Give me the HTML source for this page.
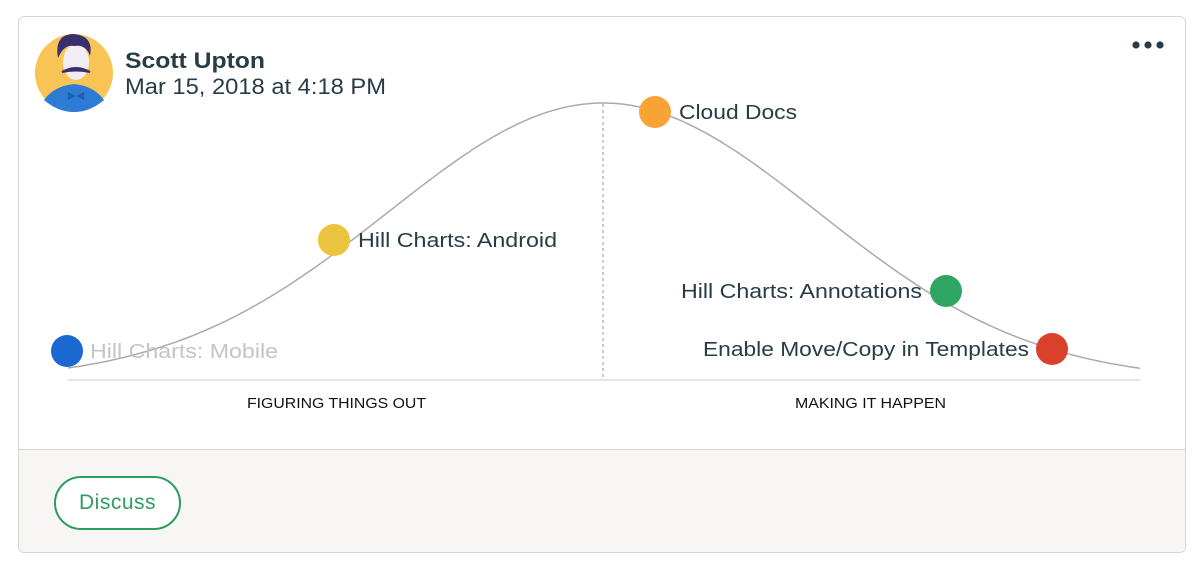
<!DOCTYPE html>
<html><head><meta charset="utf-8">
<style>
html,body{margin:0;padding:0;background:#fff;width:1200px;height:570px;overflow:hidden;font-family:"Liberation Sans",sans-serif;}
.card{position:absolute;left:18px;top:16px;width:1166px;height:535px;border:1px solid #d6d6d6;border-radius:6px;background:#fff;overflow:hidden;}
.foot{position:absolute;left:0;top:432px;width:100%;height:103px;background:#f7f6f5;border-top:1px solid #d6d6d6;}
.btn{position:absolute;left:35px;top:26px;width:127px;height:54px;border:2px solid #2f9c5f;border-radius:27px;background:#fff;color:#2f9c5f;font-size:21px;text-align:center;box-sizing:border-box;line-height:50px;letter-spacing:0.5px;}
svg{position:absolute;left:0;top:0;}
</style></head><body>
<div class="card"><div class="foot"><div class="btn">Discuss</div></div></div>
<svg width="1200" height="570" xmlns="http://www.w3.org/2000/svg">
  <circle cx="74" cy="73" r="39" fill="#f8c455"/>
  <path d="M44 100 Q54 86 74 84 Q94 86 104 100 Q90 112 74 112 Q58 112 44 100Z" fill="#2e7bd6"/>
  <ellipse cx="76" cy="62" rx="13" ry="18" fill="#f1eef3"/>
  <path d="M58 58 Q54 34 74 34 Q94 36 90 56 Q86 44 74 46 Q64 44 58 58Z" fill="#3a2f6e"/>
  <path d="M62 72 Q76 64 90 72 Q76 69 62 72Z" fill="#3a2f6e" stroke="#3a2f6e" stroke-width="2"/>
  <path d="M68 92 L76 96 L84 92 L84 100 L76 96 L68 100Z" fill="#1d5fb0"/>
  <text x="125" y="68" font-size="22" font-weight="bold" fill="#283c46" textLength="140" lengthAdjust="spacingAndGlyphs">Scott Upton</text>
  <text x="125" y="94" font-size="22" fill="#283c46" textLength="261" lengthAdjust="spacingAndGlyphs">Mar 15, 2018 at 4:18 PM</text>
  <circle cx="1136" cy="45" r="3.6" fill="#283c46"/><circle cx="1148" cy="45" r="3.6" fill="#283c46"/><circle cx="1160" cy="45" r="3.6" fill="#283c46"/>
  <line x1="68" y1="380" x2="1140" y2="380" stroke="#dddddd" stroke-width="1.5"/>
  <line x1="603" y1="104" x2="603" y2="380" stroke="#999" stroke-width="1" stroke-dasharray="3,3"/>
  <path id="hill" d="" fill="none" stroke="#aaaaaa" stroke-width="1.5"/>
  <text x="247" y="408" font-size="14.5" fill="#111" textLength="179" lengthAdjust="spacingAndGlyphs">FIGURING THINGS OUT</text>
  <text x="795" y="408" font-size="14.5" fill="#111" textLength="151" lengthAdjust="spacingAndGlyphs">MAKING IT HAPPEN</text>
  <circle cx="67" cy="351" r="16" fill="#1b68d1"/>
  <text x="90" y="358" font-size="20" fill="#c4c4c4" textLength="188" lengthAdjust="spacingAndGlyphs">Hill Charts: Mobile</text>
  <circle cx="334" cy="240" r="16" fill="#eac33f"/>
  <text x="358" y="247" font-size="20" fill="#283c46" textLength="199" lengthAdjust="spacingAndGlyphs">Hill Charts: Android</text>
  <circle cx="655" cy="112" r="16" fill="#f9a236"/>
  <text x="679" y="119" font-size="20" fill="#283c46" textLength="118" lengthAdjust="spacingAndGlyphs">Cloud Docs</text>
  <circle cx="946" cy="291" r="16" fill="#2ea561"/>
  <text x="681" y="298" font-size="20" fill="#283c46" textLength="241" lengthAdjust="spacingAndGlyphs">Hill Charts: Annotations</text>
  <circle cx="1052" cy="349" r="16" fill="#d9412d"/>
  <text x="703" y="356" font-size="20" fill="#283c46" textLength="326" lengthAdjust="spacingAndGlyphs">Enable Move/Copy in Templates</text>
</svg>
<script>
(function(){
  var s=215,g0=Math.exp(-Math.pow(535/s,2)/2),d="";
  for(var x=68;x<=1140;x+=4){
    var g=Math.exp(-Math.pow((x-603)/s,2)/2);
    var y=368-265*(g-g0)/(1-g0);
    d+=(x===68?"M":"L")+x+" "+y.toFixed(1)+" ";
  }
  document.getElementById("hill").setAttribute("d",d);
})();
</script>
</body></html>
